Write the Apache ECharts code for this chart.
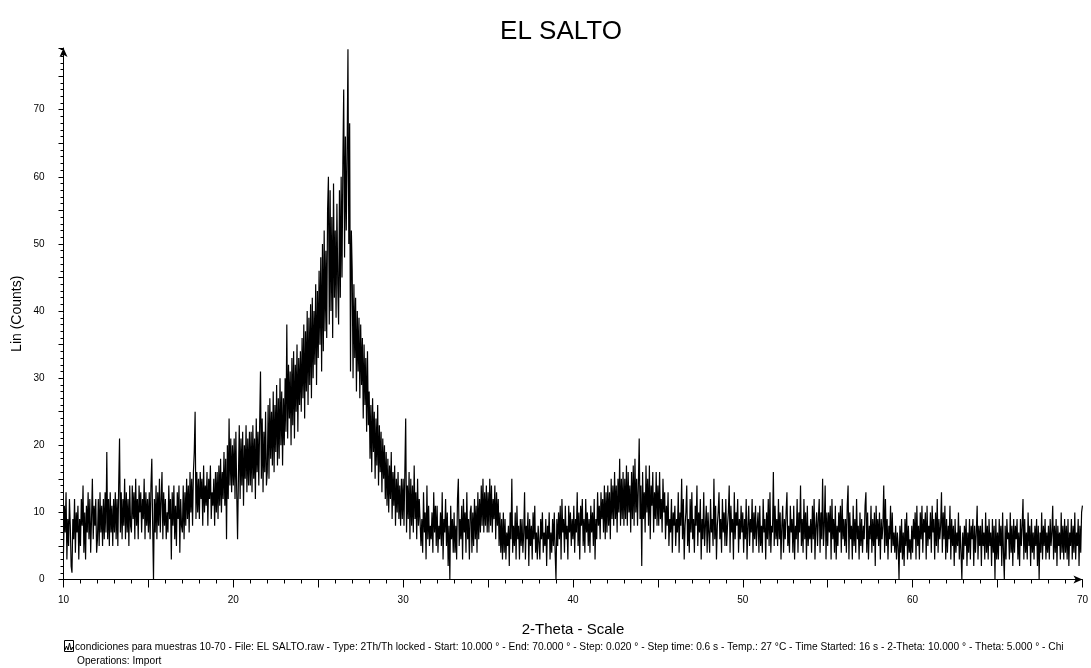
<!DOCTYPE html>
<html><head><meta charset="utf-8">
<script src="https://cdn.jsdelivr.net/npm/echarts@6/dist/echarts.min.js"></script>
<style>html,body{margin:0;padding:0;background:#fff}#c{width:1091px;height:668px}</style>
</head><body><div id="c"></div>
<script>
const chartTitle = 'EL SALTO';
const xAxisTitle = '2-Theta - Scale';
const yAxisTitle = 'Lin (Counts)';
const footerLine1 = 'condiciones para muestras 10-70 - File: EL SALTO.raw - Type: 2Th/Th locked - Start: 10.000 ° - End: 70.000 ° - Step: 0.020 ° - Step time: 0.6 s - Temp.: 27 °C - Time Started: 16 s - 2-Theta: 10.000 ° - Theta: 5.000 ° - Chi';
const footerLine2 = 'Operations: Import';
const xTickLabels = [10, 20, 30, 40, 50, 60, 70];
const yTickLabels = [0, 10, 20, 30, 40, 50, 60, 70];
const scanStart = 10;
const scanStep = 0.05;

const counts10to20 = [
4,11,7,13,3,9,5,12,8,2,1,9,6,12,4,10,7,11,3,9,
5,12,8,14,4,10,3,11,7,13,6,12,4,9,15,6,11,8,12,4,
6,12,5,13,7,11,5,12,6,13,7,19,6,12,5,13,7,11,5,12,
7,13,6,12,5,14,21,7,13,6,12,8,15,6,13,7,12,5,14,8,
7,14,9,13,6,15,8,12,6,14,10,13,7,12,9,15,6,13,8,12,
7,13,6,14,18,8,0,12,7,14,6,13,8,15,7,12,16,6,13,8,
12,6,10,7,14,9,12,3,13,8,14,6,11,5,13,9,14,4,12,8,
7,14,6,13,8,15,9,14,7,16,10,15,8,16,19,25,9,16,10,15,
9,16,12,15,8,17,10,14,11,16,8,15,12,17,9,13,11,15,8,16,
10,16,9,17,11,18,10,16,12,19,11,18,6,20,12,24,14,21,13,20
];
const counts20to30 = [
14,21,12,22,13,6,15,23,12,21,14,22,11,20,15,23,13,21,14,22,
14,22,13,23,15,21,12,24,16,22,14,23,31,15,24,13,22,16,25,14,
16,26,15,27,18,25,17,28,16,26,19,29,17,27,18,30,20,28,17,27,
20,30,22,38,21,32,24,31,20,33,23,34,21,32,25,35,22,33,26,34,
25,36,27,38,24,37,28,40,26,39,29,41,27,42,30,40,32,44,29,43,
33,46,35,48,31,50,34,52,37,49,36,55,60,38,58,40,54,36,59,42,
52,39,56,44,38,58,42,60,45,62,73,48,66,52,63,79,50,68,31,52,
46,30,44,33,42,28,40,31,39,27,38,29,36,24,35,26,33,22,34,23,
28,18,26,16,27,19,25,15,24,17,26,14,23,16,22,13,21,15,20,12,
19,11,18,10,17,12,19,9,16,11,17,8,15,10,16,9,14,8,15,9
];
const counts30to40 = [
15,8,16,24,7,14,9,16,6,15,8,14,7,17,9,13,6,15,8,12,
12,5,9,4,13,7,10,3,14,6,11,5,8,6,10,4,13,7,11,5,
11,4,8,6,10,5,13,3,9,7,12,5,10,2,8,0,11,6,9,4,
10,4,8,3,12,15,5,9,6,11,3,12,7,10,4,13,6,9,3,10,
11,4,10,5,12,6,11,4,13,6,12,7,14,8,15,7,13,8,14,7,
13,7,15,8,14,7,12,9,14,6,13,8,12,5,10,4,9,3,10,4,
9,3,7,5,8,2,10,6,15,4,8,5,10,3,11,6,8,3,9,5,
9,4,7,13,3,8,6,10,2,9,5,8,3,10,6,11,4,7,3,8,
8,3,9,6,10,4,7,5,9,2,8,6,10,3,7,4,9,5,10,4,
0,9,5,10,6,11,3,12,7,9,4,11,6,8,3,11,7,10,5,9
];
const counts40to50 = [
6,11,4,9,7,13,5,10,3,11,8,12,5,9,4,12,7,10,5,9,
4,11,7,10,5,12,3,9,6,13,8,11,6,13,9,12,7,14,6,13,
7,14,8,13,6,15,9,14,8,16,9,14,7,15,10,18,8,15,9,16,
8,15,9,17,8,16,10,14,7,16,9,17,8,18,10,15,8,14,21,9,
14,2,16,9,13,7,17,10,15,8,17,6,14,11,16,7,13,9,16,8,
14,8,16,9,12,7,15,10,13,6,11,8,13,5,9,7,12,4,10,8,
11,5,9,7,13,4,10,8,15,6,12,3,8,10,14,5,9,4,12,7,
13,6,9,4,11,8,14,5,10,7,12,3,9,6,13,5,8,11,4,10,
10,4,12,7,9,5,15,6,11,3,8,10,13,6,9,4,12,7,10,5,
12,5,8,10,14,4,11,7,9,3,13,6,10,8,12,4,9,6,11,7
];
const counts50to60 = [
10,4,9,6,12,3,8,11,5,9,7,12,4,10,6,11,5,8,10,4,
11,5,8,4,12,7,9,3,10,6,12,5,13,4,8,7,16,5,11,6,
9,5,12,6,10,3,8,11,4,9,6,10,13,5,8,4,11,7,9,4,
11,3,8,6,12,4,10,7,14,5,9,4,12,6,10,3,11,5,8,6,
9,4,11,6,12,3,8,10,5,9,12,4,10,6,15,5,8,14,3,10,
5,10,7,11,3,12,6,9,4,11,3,8,5,10,7,11,4,12,6,9,
5,9,4,11,14,3,10,6,8,3,11,5,9,4,12,6,8,3,10,5,
9,4,8,6,11,13,4,10,3,8,6,11,4,9,5,10,2,11,6,9,
5,10,3,9,6,8,14,4,12,5,9,3,8,6,11,4,10,5,7,4,
8,3,7,5,0,8,4,9,3,7,2,9,5,10,3,8,4,6,3,8
];
const counts60to70 = [
4,9,6,10,3,11,5,8,3,10,6,11,4,9,7,10,3,11,5,8,
6,10,4,11,7,9,3,10,5,12,4,9,6,8,13,4,10,6,11,3,
9,4,8,6,11,3,9,5,8,2,9,4,7,5,10,3,8,4,0,7,
3,8,5,9,2,7,4,9,3,8,6,9,2,8,4,7,11,3,8,5,
8,2,9,5,7,3,10,4,8,3,9,5,7,2,9,4,8,0,9,3,
7,3,9,5,8,2,10,4,0,8,3,9,6,7,3,10,4,8,2,9,
4,8,6,9,3,7,2,9,5,8,12,3,9,4,7,3,10,5,8,2,
9,4,7,3,8,5,9,2,8,0,7,4,10,3,8,5,9,3,7,4,
8,3,9,5,7,11,3,8,4,9,2,8,5,7,3,10,4,8,3,9,
4,8,3,9,2,7,5,9,3,8,4,10,3,7,5,9,2,8,4,10,
11
];

const counts = [].concat(counts10to20, counts20to30, counts30to40, counts40to50, counts50to60, counts60to70);
const seriesData = counts.map((c, i) => [+(scanStart + i * scanStep).toFixed(2), c]);

const FONT = '"Liberation Sans", Arial, sans-serif';
const axisLineStyle = { color: '#000', width: 1 };

const chart = echarts.init(document.getElementById('c'), null, { renderer: 'canvas' });
chart.setOption({
  animation: false,
  backgroundColor: '#fff',
  grid: { left: 63.5, right: 4.5, top: 48, bottom: 88.5, containLabel: false },
  xAxis: {
    type: 'value', min: 10, max: 70, interval: 5,
    name: xAxisTitle, nameLocation: 'middle', nameGap: 43,
    nameTextStyle: { fontSize: 15, fontFamily: FONT, color: '#000' },
    axisLine: { show: true, onZero: false, symbol: ['none', 'arrow'], symbolSize: [6, 9], lineStyle: axisLineStyle },
    axisTick: { show: true, length: 8, lineStyle: axisLineStyle },
    minorTick: { show: true, splitNumber: 5, length: 4, lineStyle: axisLineStyle },
    axisLabel: { fontSize: 10, fontFamily: FONT, color: '#000', margin: 16,
      formatter: v => xTickLabels.includes(v) ? String(v) : '' },
    splitLine: { show: false }, minorSplitLine: { show: false }
  },
  yAxis: {
    type: 'value', min: 0, max: 79.2, interval: 5,
    name: yAxisTitle, nameLocation: 'middle', nameGap: 39, nameRotate: 90, nameMoveOverlap: false,
    nameTextStyle: { fontSize: 14, fontFamily: FONT, color: '#000' },
    axisLine: { show: true, onZero: false, symbol: ['none', 'arrow'], symbolSize: [6, 9], lineStyle: axisLineStyle },
    axisTick: { show: true, length: 5, lineStyle: axisLineStyle },
    minorTick: { show: true, splitNumber: 5, length: 3, lineStyle: axisLineStyle },
    axisLabel: { fontSize: 10, fontFamily: FONT, color: '#000', margin: 19, showMaxLabel: false,
      formatter: v => yTickLabels.includes(v) ? String(v) : '' },
    splitLine: { show: false }, minorSplitLine: { show: false }
  },
  series: [{
    type: 'line', data: seriesData, showSymbol: false, symbol: 'none',
    sampling: null, clip: true,
    lineStyle: { color: '#000', width: 1.2 }
  }],
  graphic: [
    { type: 'text', x: 561, y: 32, style: { text: chartTitle, fontSize: 26, fontFamily: FONT, fill: '#000', textAlign: 'center', textVerticalAlign: 'middle' } },
    { type: 'rect', shape: { x: 64.5, y: 640.5, width: 9, height: 11 }, style: { fill: '#fff', stroke: '#000', lineWidth: 1 } },
    { type: 'polyline', shape: { points: [[65, 650], [66.5, 646], [68, 650], [69.5, 643], [71, 650], [72.5, 647], [73.5, 650]] }, style: { stroke: '#000', fill: null, lineWidth: 1 } },
    { type: 'text', x: 75, y: 647, style: { text: footerLine1, fontSize: 10.2, fontFamily: FONT, fill: '#000', textVerticalAlign: 'middle' } },
    { type: 'text', x: 77, y: 661, style: { text: footerLine2, fontSize: 10.2, fontFamily: FONT, fill: '#000', textVerticalAlign: 'middle' } }
  ]
});
</script>
</body></html>
